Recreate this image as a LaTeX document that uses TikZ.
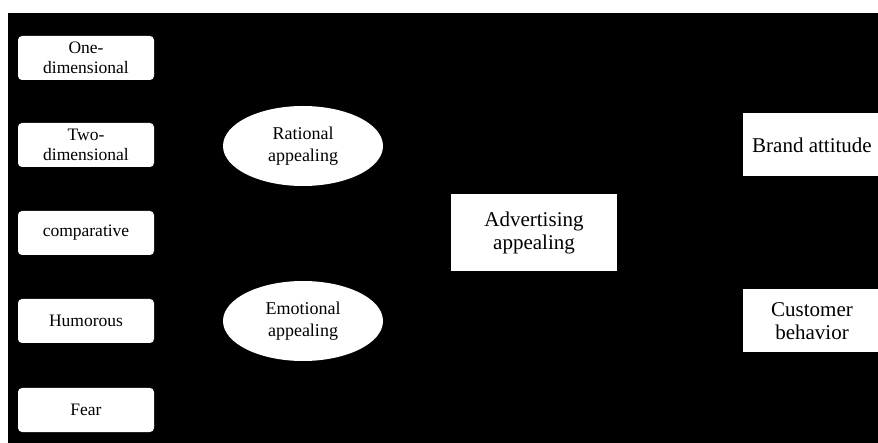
\documentclass[tikz,border=0pt]{standalone}
\usepackage{fontspec}
\setmainfont{Liberation Serif}
\usetikzlibrary{shapes.geometric}

\begin{document}
\begin{tikzpicture}[x=1pt,y=1pt,yscale=-1,xscale=1,
  typebox/.style={draw=none,fill=white,rounded corners=4pt,minimum width=136pt,minimum height=44pt,inner sep=0pt,align=center,font=\fontsize{17.5}{20}\selectfont},
  appealoval/.style={ellipse,draw=none,fill=white,minimum width=160pt,minimum height=80pt,inner sep=0pt,align=center,font=\fontsize{18}{22}\selectfont},
  mainbox/.style={draw=none,fill=white,minimum width=166pt,minimum height=77pt,inner sep=0pt,align=center,font=\fontsize{21}{23.5}\selectfont},
  effectbox/.style={draw=none,fill=white,minimum width=138pt,minimum height=63pt,inner sep=0pt,align=center,font=\fontsize{21}{23.5}\selectfont}]
\useasboundingbox (0,0) rectangle (878,443);
\clip (0,0) rectangle (878,443);

%Shape: Background
\fill[white] (0,0) rectangle (878,443);
\fill[black] (8,13) rectangle (878,443);

%Shape: Types of appeal
\node[typebox] (one) at (86,58) {One-\\dimensional};
\node[typebox] (two) at (86,145) {Two-\\dimensional};
\node[typebox] (comp) at (86,233) {comparative};
\node[typebox] (humor) at (86,321) {Humorous};
\node[typebox] (fear) at (86,410) {Fear};

%Shape: Ellipse
\node[appealoval] (rational) at (303,146) {Rational\\appealing};
\node[appealoval] (emotional) at (303,321) {Emotional\\appealing};

%Shape: Rectangle
\node[mainbox] (advert) at (534,233) {Advertising\\appealing};

%Shape: Rectangle
\node[effectbox] (brand) at (812,145) {Brand attitude};
\node[effectbox] (customer) at (812,321) {Customer\\behavior};

\end{tikzpicture}
\end{document}
